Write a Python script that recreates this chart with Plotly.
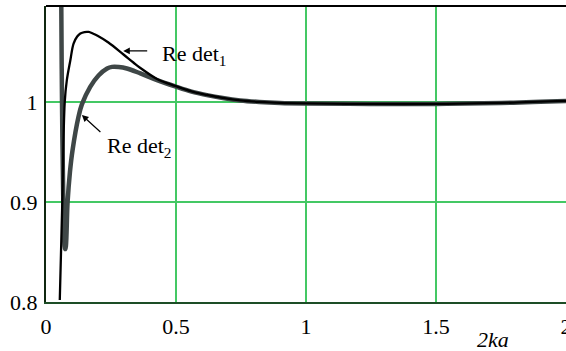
import plotly.graph_objects as go

# Re det_1 (thin black curve)
det1_x = [0.053, 0.0627, 0.072, 0.08, 0.0935, 0.106, 0.12, 0.132, 0.148, 0.164, 0.18, 0.2, 0.24,
          0.298, 0.336, 0.363, 0.427, 0.497, 0.56, 0.619, 0.68, 0.747, 0.82, 0.9, 1.0, 1.25, 1.5, 1.75, 2.0]
det1_y = [0.802, 0.900, 1.000, 1.022, 1.042, 1.059, 1.066, 1.069, 1.0705, 1.0706, 1.069, 1.0665, 1.060,
          1.048, 1.040, 1.0345, 1.0235, 1.0165, 1.011, 1.0075, 1.0045, 1.002, 1.0005, 0.9995, 0.999,
          0.9985, 0.9985, 0.9995, 1.0015]

# Re det_2 (thick dark grey curve)
det2_x = [0.058, 0.0588, 0.0615, 0.0665, 0.0715, 0.074, 0.0765, 0.083, 0.092, 0.102, 0.125, 0.138,
          0.17, 0.202, 0.235, 0.254, 0.28, 0.311, 0.363, 0.427, 0.497, 0.56, 0.619, 0.68, 0.747,
          0.82, 0.9, 1.0, 1.25, 1.5, 1.75, 2.0]
det2_y = [1.12, 1.097, 1.002, 0.902, 0.856, 0.853, 0.856, 0.900, 0.930, 0.952, 0.9856, 0.998,
          1.0156, 1.027, 1.034, 1.0356, 1.0355, 1.034, 1.029, 1.0223, 1.016, 1.0108, 1.0073, 1.0044, 1.002,
          1.0005, 0.9995, 0.999, 0.9985, 0.9985, 0.9995, 1.0015]

x_ticks = [0, 0.5, 1, 1.5, 2]
x_tick_labels = ["0", "0.5", "1", "1.5", "2"]
y_ticks = [0.8, 0.9, 1.0]
y_tick_labels = ["0.8", "0.9", "1"]

FONT = "Liberation Serif"

fig = go.Figure()
fig.add_trace(go.Scatter(x=det2_x, y=det2_y, mode="lines", line=dict(color="#3f4747", width=4.5),
                         line_shape="spline", showlegend=False, hoverinfo="skip"))
fig.add_trace(go.Scatter(x=det1_x, y=det1_y, mode="lines", line=dict(color="#000000", width=2.3),
                         line_shape="spline", showlegend=False, hoverinfo="skip"))

# arrows
fig.add_annotation(x=0.297, y=1.0516, ax=0.395, ay=1.0516, xref="x", yref="y", axref="x", ayref="y",
                   text="", showarrow=True, arrowhead=2, arrowsize=1.1, arrowwidth=1.2, arrowcolor="black")
fig.add_annotation(x=0.138, y=0.9873, ax=0.215, ay=0.969, xref="x", yref="y", axref="x", ayref="y",
                   text="", showarrow=True, arrowhead=2, arrowsize=1.1, arrowwidth=1.2, arrowcolor="black")
# labels
fig.add_annotation(x=0.44, y=1.048, xref="x", yref="y", text="Re det<sub>1</sub>", showarrow=False,
                   xanchor="left", yanchor="middle", font=dict(family=FONT, size=22, color="black"))
fig.add_annotation(x=0.226, y=0.955, xref="x", yref="y", text="Re det<sub>2</sub>", showarrow=False,
                   xanchor="left", yanchor="middle", font=dict(family=FONT, size=22, color="black"))
# axis title
fig.add_annotation(x=0.86, y=-0.125, xref="paper", yref="paper", text="<i>2ka</i>", showarrow=False,
                   xanchor="center", yanchor="middle", font=dict(family=FONT, size=22, color="black"))

# top border
fig.add_shape(type="line", xref="paper", yref="paper", x0=0, x1=1, y0=1, y1=1,
              line=dict(color="black", width=2))

fig.update_layout(
    template="none",
    width=566, height=351,
    margin=dict(l=46, r=0, t=6, b=49),
    plot_bgcolor="white", paper_bgcolor="white",
    font=dict(family=FONT, size=22, color="black"),
)
fig.update_xaxes(range=[0, 2], tickvals=x_ticks, ticktext=x_tick_labels, showgrid=True,
                 gridcolor="#44c864", gridwidth=1.5, zeroline=False, showline=True,
                 linecolor="#1d4d26", linewidth=2, ticks="outside", ticklen=4,
                 tickcolor="rgba(0,0,0,0)", automargin=False, ticklabeloverflow="allow",
                 tickfont=dict(family=FONT, size=22, color="black"))
fig.update_yaxes(range=[0.8, 1.0966], tickvals=y_ticks, ticktext=y_tick_labels, showgrid=True,
                 gridcolor="#44c864", gridwidth=1.5, zeroline=False, showline=True,
                 linecolor="#102810", linewidth=2, ticks="outside", ticklen=2,
                 tickcolor="rgba(0,0,0,0)", automargin=False,
                 tickfont=dict(family=FONT, size=22, color="black"))

fig.write_html("out.html", config={"displayModeBar": False},
               post_script="document.body.style.margin='0';document.body.style.overflow='hidden';")
